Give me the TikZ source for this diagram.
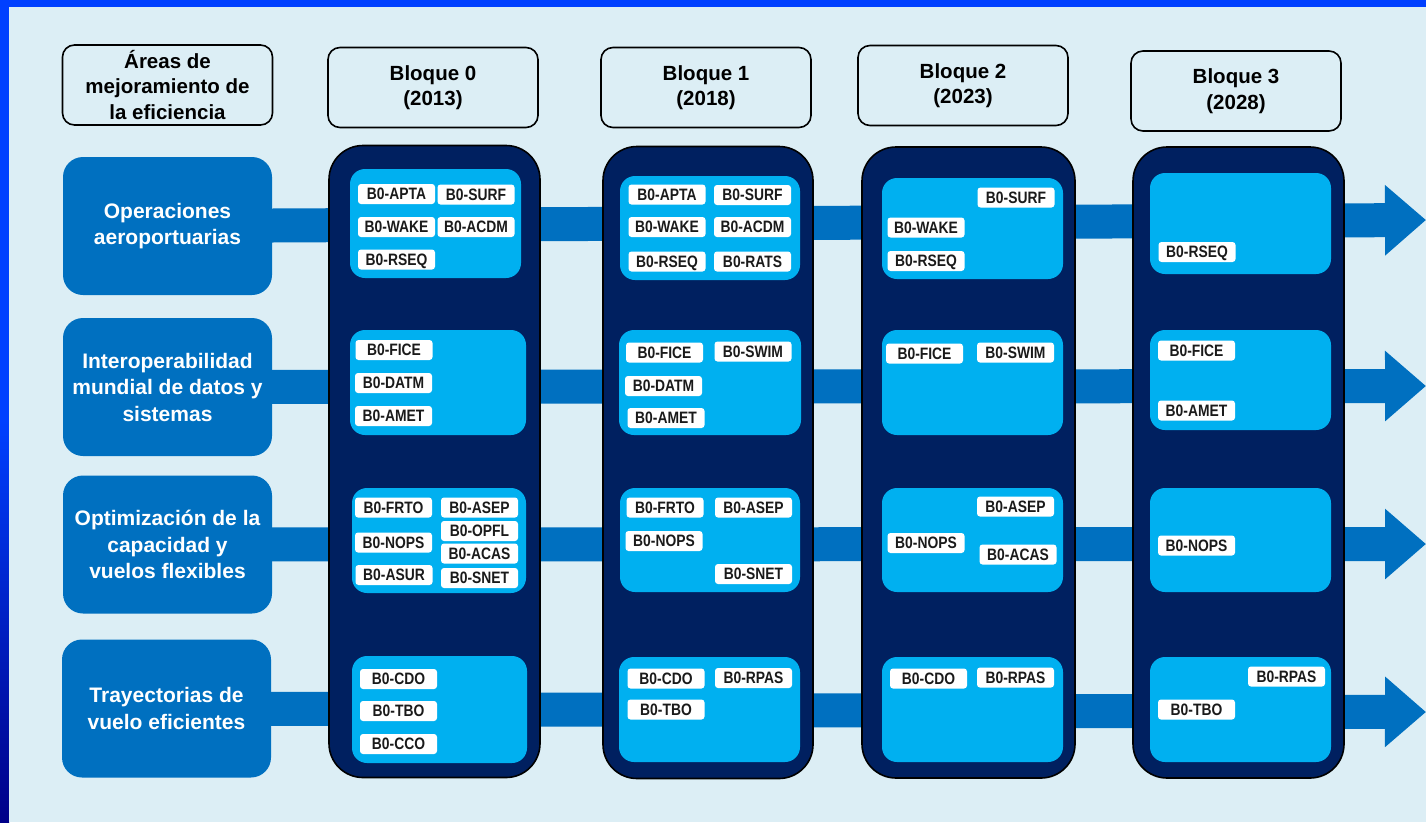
\documentclass[tikz,border=0pt]{standalone}
\usepackage{fontspec}
\setmainfont{Liberation Sans}
\newfontfamily\tagfamily[FakeStretch=0.84]{Liberation Sans}
\usetikzlibrary{arrows.meta}
\definecolor{bgc}{HTML}{DCEEF5}
\definecolor{framec}{HTML}{0040FF}
\definecolor{framedark}{HTML}{000088}
\definecolor{areablue}{HTML}{0070C0}
\definecolor{navyc}{HTML}{002060}
\definecolor{cyanp}{HTML}{00B0F0}
\definecolor{tagtext}{HTML}{1A1A1A}
\pgfdeclarelayer{bglayer}
\pgfdeclarelayer{arrowlayer}
\pgfsetlayers{bglayer,arrowlayer,main}
\newcommand\hdrfont{\fontsize{20.5}{25.5}\selectfont\bfseries}
\newcommand\areafont{\fontsize{21}{26.5}\selectfont\bfseries}
\newcommand\tagfnt{\tagfamily\fontsize{16.5}{18}\selectfont\bfseries}
\tikzset{
  hdr/.style={draw=black, line width=1.6pt, rounded corners=12pt, minimum width=210pt,
    minimum height=80pt, align=center, font=\hdrfont, inner sep=0pt, text=black},
  area/.style={fill=areablue, rounded corners=20pt, minimum width=209pt, minimum height=138pt,
    align=center, text=white, font=\areafont, inner sep=0pt},
  blockcol/.style={fill=navyc, draw=black, line width=1.6pt, rounded corners=34pt,
    minimum width=211pt, minimum height=632pt, inner sep=0pt},
  panel/.style={fill=cyanp, rounded corners=15pt, inner sep=0pt},
  tagbox/.style={fill=white, rounded corners=3pt, minimum width=77pt, minimum height=20pt,
    inner sep=0pt, text height=11.5pt, text depth=0pt, font=\tagfnt, text=tagtext},
  flow/.style={draw=areablue, line width=34pt, -{Triangle[length=41pt,width=68pt]}}
}
\newcommand\pnl[5]{\node[panel, minimum width=#4pt, minimum height=#5pt] (#1) at (#2,#3) {};}
\newcommand\tg[4]{\node[tagbox] (#1) at (#2,#3) {#4};}
\begin{document}
\begin{tikzpicture}[x=1pt,y=-1pt]
\useasboundingbox (0,0) rectangle (1426,822);
\begin{pgfonlayer}{bglayer}
  \fill[framec] (0,0) rectangle (1426,822);
  \shade[top color=framec, bottom color=framedark] (0,420) rectangle (9,822);
  \fill[bgc] (9,7) rectangle (1426,822);
\end{pgfonlayer}

% headers
\node[hdr] (hA) at (167.5,85) {Áreas de\\mejoramiento de\\la eficiencia};
\node[hdr] (h0) at (433,87.5) {Bloque 0\\(2013)};
\node[hdr] (h1) at (706,87.5) {Bloque 1\\(2018)};
\node[hdr] (h2) at (963,85.5) {Bloque 2\\(2023)};
\node[hdr] (h3) at (1236,91) {Bloque 3\\(2028)};

% area boxes
\node[area] (a1) at (167.5,226) {Operaciones\\aeroportuarias};
\node[area] (a2) at (167.5,387) {Interoperabilidad\\mundial de datos y\\sistemas};
\node[area] (a3) at (167.5,544.5) {Optimización de la\\capacidad y\\vuelos flexibles};
\node[area] (a4) at (166.5,708.5) {Trayectorias de\\vuelo eficientes};

% arrow ends
\coordinate (t1) at (1426,220);
\coordinate (t2) at (1426,386);
\coordinate (t3) at (1426,544);
\coordinate (t4) at (1426,712);
\begin{pgfonlayer}{arrowlayer}
  \draw[flow] (a1.center) -- (t1);
  \draw[flow] (a2.center) -- (t2);
  \draw[flow] (a3.center) -- (t3);
  \draw[flow] (a4.center) -- (t4);
\end{pgfonlayer}

% block columns
\node[blockcol] (c0) at (434.5,461.5) {};
\node[blockcol, minimum width=210pt] (c1) at (708,462.5) {};
\node[blockcol, minimum width=213pt, minimum height=631pt] (c2) at (968.5,462.5) {};
\node[blockcol, minimum height=631pt] (c3) at (1238.5,462.5) {};

% panels
\pnl{p01}{435.5}{223.5}{171}{109}
\pnl{p02}{438}{382.5}{176}{105}
\pnl{p03}{439}{540.5}{174}{105}
\pnl{p04}{439.5}{709.5}{175}{107}
\pnl{p11}{710}{228}{180}{104}
\pnl{p12}{710}{382.5}{182}{105}
\pnl{p13}{710}{540}{180}{104}
\pnl{p14}{709.5}{709.5}{181}{105}
\pnl{p21}{972.5}{228.5}{181}{101}
\pnl{p22}{972.5}{382.5}{181}{105}
\pnl{p23}{972.5}{540}{181}{104}
\pnl{p24}{972.5}{709.5}{181}{105}
\pnl{p31}{1240.5}{223.5}{181}{101}
\pnl{p32}{1240.5}{380}{181}{100}
\pnl{p33}{1240.5}{540}{181}{104}
\pnl{p34}{1240.5}{709.5}{181}{105}

% Bloque 0 tags
\tg{b0apta}{396.5}{194}{B0-APTA}
\tg{b0surf}{476}{194.5}{B0-SURF}
\tg{b0wake}{396.5}{227}{B0-WAKE}
\tg{b0acdm}{476}{227}{B0-ACDM}
\tg{b0rseq}{396.5}{259.5}{B0-RSEQ}
\tg{b0fice}{394}{350}{B0-FICE}
\tg{b0datm}{393.5}{383}{B0-DATM}
\tg{b0amet}{393.5}{416}{B0-AMET}
\tg{b0frto}{393.5}{507.5}{B0-FRTO}
\tg{b0asep}{479.5}{507.5}{B0-ASEP}
\tg{b0opfl}{479.5}{531}{B0-OPFL}
\tg{b0acas}{479.5}{553.5}{B0-ACAS}
\tg{b0nops}{393.5}{542.5}{B0-NOPS}
\tg{b0asur}{394}{575}{B0-ASUR}
\tg{b0snet}{479.5}{578}{B0-SNET}
\tg{b0cdo}{398.5}{679}{B0-CDO}
\tg{b0tbo}{398.5}{711}{B0-TBO}
\tg{b0cco}{398.5}{744}{B0-CCO}

% Bloque 1 tags
\tg{b1apta}{667}{194.5}{B0-APTA}
\tg{b1surf}{752.5}{195}{B0-SURF}
\tg{b1wake}{667}{227}{B0-WAKE}
\tg{b1acdm}{752.5}{227}{B0-ACDM}
\tg{b1rseq}{667}{261.5}{B0-RSEQ}
\tg{b1rats}{752.5}{261.5}{B0-RATS}
\tg{b1fice}{664.5}{352.5}{B0-FICE}
\tg{b1swim}{753}{351.5}{B0-SWIM}
\tg{b1datm}{663.5}{386}{B0-DATM}
\tg{b1amet}{666}{418}{B0-AMET}
\tg{b1frto}{665}{507.5}{B0-FRTO}
\tg{b1asep}{753.5}{507.5}{B0-ASEP}
\tg{b1nops}{664}{541}{B0-NOPS}
\tg{b1snet}{753.5}{574}{B0-SNET}
\tg{b1cdo}{666}{678.5}{B0-CDO}
\tg{b1rpas}{753.5}{678}{B0-RPAS}
\tg{b1tbo}{666}{709.5}{B0-TBO}

% Bloque 2 tags
\tg{b2surf}{1016}{197.5}{B0-SURF}
\tg{b2wake}{926}{227.5}{B0-WAKE}
\tg{b2rseq}{926}{261}{B0-RSEQ}
\tg{b2fice}{924.5}{353.5}{B0-FICE}
\tg{b2swim}{1015.5}{352.5}{B0-SWIM}
\tg{b2asep}{1015.5}{506.5}{B0-ASEP}
\tg{b2nops}{926}{543}{B0-NOPS}
\tg{b2acas}{1018}{554.5}{B0-ACAS}
\tg{b2cdo}{928.5}{678.5}{B0-CDO}
\tg{b2rpas}{1015.5}{677.5}{B0-RPAS}

% Bloque 3 tags
\tg{b3rseq}{1197}{252}{B0-RSEQ}
\tg{b3fice}{1196.5}{350.5}{B0-FICE}
\tg{b3amet}{1196.5}{410.5}{B0-AMET}
\tg{b3nops}{1196.5}{545.5}{B0-NOPS}
\tg{b3rpas}{1286.5}{676.5}{B0-RPAS}
\tg{b3tbo}{1196.5}{709.5}{B0-TBO}
\end{tikzpicture}
\end{document}
